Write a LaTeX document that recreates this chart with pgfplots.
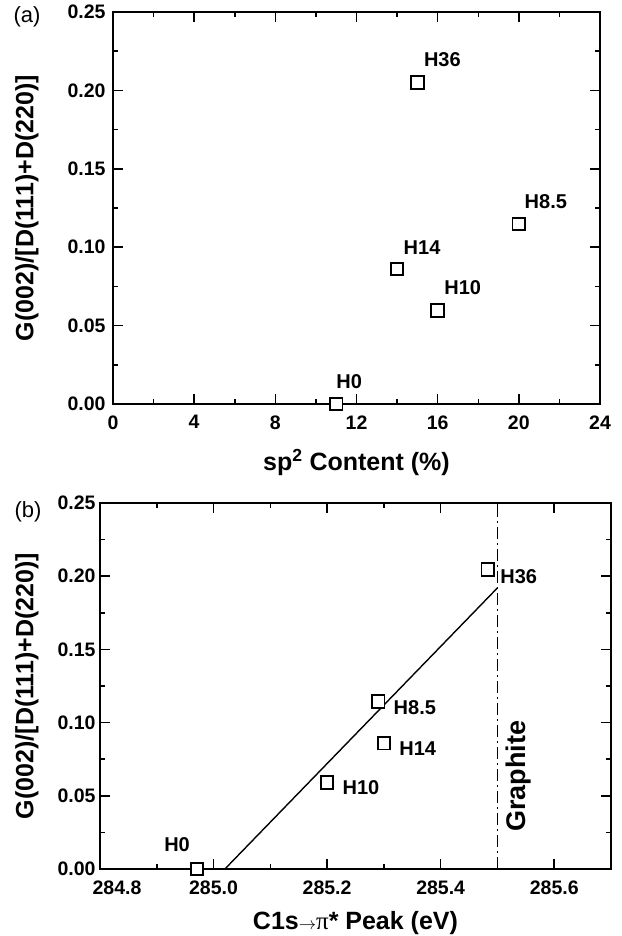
\documentclass[border=0pt]{standalone}
\usepackage{fontspec}
\setmainfont{Liberation Sans}
\newfontfamily\serifgr{Liberation Serif}
\usepackage{pgfplots}
\pgfplotsset{compat=1.18}
\begin{document}
\begin{tikzpicture}
\useasboundingbox (0pt,0pt) rectangle (621pt,936pt);
\pgfplotsset{
  myaxis/.style={
    scale only axis,
    anchor=south west,
    axis line style={line width=1.7pt},
    every tick/.style={line width=1.5pt, black},
    major tick length=10pt,
    minor tick length=5pt,
    tick align=inside,
    ymin=0, ymax=0.25,
    ytick={0,0.05,0.10,0.15,0.20,0.25},
    yticklabels={0.00,0.05,0.10,0.15,0.20,0.25},
    minor tick num=1,
    /pgf/number format/assume math mode=true,
    tick label style={font=\bfseries\fontsize{19.5}{19.5}\selectfont},
    label style={font=\bfseries\fontsize{25}{25}\selectfont},
    clip=false,
  },
  sq/.style={only marks, mark=square*, mark size=6.3pt,
    mark options={fill=white, draw=black, line width=1.9pt}},
}
% ---------------- panel (a)
\begin{axis}[myaxis,
  at={(113pt,532pt)}, width=487pt, height=392pt,
  xmin=0, xmax=24,
  xtick={0,4,8,12,16,20,24},
  xticklabels={0,4,8,12,16,20,24},
  yticklabel style={xshift=-4pt},
  xticklabel style={yshift=-8pt},
  xlabel={sp\textsuperscript{2} Content (\%)},
  xlabel style={at={(axis description cs:0.5,-0.148)}, anchor=center},
  ylabel={G(002)/[D(111)+D(220)]},
  ylabel style={at={(axis description cs:-0.1766,0.5)}, anchor=center, rotate=0},
]
\addplot[sq] coordinates {(11,0) (14,0.086) (15,0.205) (16,0.0595) (20,0.1148)};
\begin{scope}[every node/.style={font=\bfseries\fontsize{20}{20}\selectfont}]
\node at (axis cs:15,0.205) [xshift=25pt, yshift=23pt] {H36};
\node at (axis cs:20,0.1148) [xshift=27pt, yshift=22pt] {H8.5};
\node at (axis cs:14,0.086) [xshift=25pt, yshift=22pt] {H14};
\node at (axis cs:16,0.0595) [xshift=25pt, yshift=23pt] {H10};
\node at (axis cs:11,0) [xshift=13pt, yshift=22pt] {H0};
\end{scope}
\end{axis}
\node[font=\fontsize{22}{22}\selectfont] at (27pt,919pt) {(a)};
% ---------------- panel (b)
\begin{axis}[myaxis,
  at={(100pt,67pt)}, width=511pt, height=366pt,
  xmin=284.8, xmax=285.7,
  xtick={284.8,285.0,285.2,285.4,285.6},
  xticklabels={\hspace*{34pt}284.8,285.0,285.2,285.4,285.6},
  yticklabel style={xshift=-1pt},
  xticklabel style={yshift=-8pt},
  xlabel={C1s{\mdseries\fontsize{18}{18}\selectfont$\rightarrow$}{\serifgr\mdseries π}* Peak (eV)},
  xlabel style={at={(axis description cs:0.5,-0.1475)}, anchor=center},
  ylabel={G(002)/[D(111)+D(220)]},
  ylabel style={at={(axis description cs:-0.1429,0.5)}, anchor=center, rotate=0},
]
\addplot[black, line width=1.8pt, dash pattern=on 12pt off 4pt on 2pt off 4pt] coordinates {(285.5,0) (285.5,0.25)};
\addplot[black, line width=1.4pt] coordinates {(285.02,0) (285.5,0.192)};
\addplot[sq] coordinates {(284.971,0) (285.2,0.0590) (285.29,0.1143) (285.30,0.0859) (285.483,0.2047)};
\begin{scope}[every node/.style={font=\bfseries\fontsize{20}{20}\selectfont}]
\node[anchor=west] at (axis cs:285.483,0.2047) [xshift=9pt, yshift=-7pt] {H36};
\node[anchor=west] at (axis cs:285.29,0.1143) [xshift=12pt, yshift=-6pt] {H8.5};
\node[anchor=west] at (axis cs:285.30,0.0859) [xshift=12pt, yshift=-5pt] {H14};
\node[anchor=west] at (axis cs:285.2,0.0590) [xshift=12pt, yshift=-5pt] {H10};
\node at (axis cs:284.971,0) [xshift=-20pt, yshift=24pt] {H0};
\node[rotate=90, font=\bfseries\fontsize{27}{27}\selectfont] at (axis cs:285.537,0.0635) {Graphite};
\end{scope}
\end{axis}
\node[font=\fontsize{22}{22}\selectfont] at (28pt,424pt) {(b)};
\end{tikzpicture}
\end{document}
